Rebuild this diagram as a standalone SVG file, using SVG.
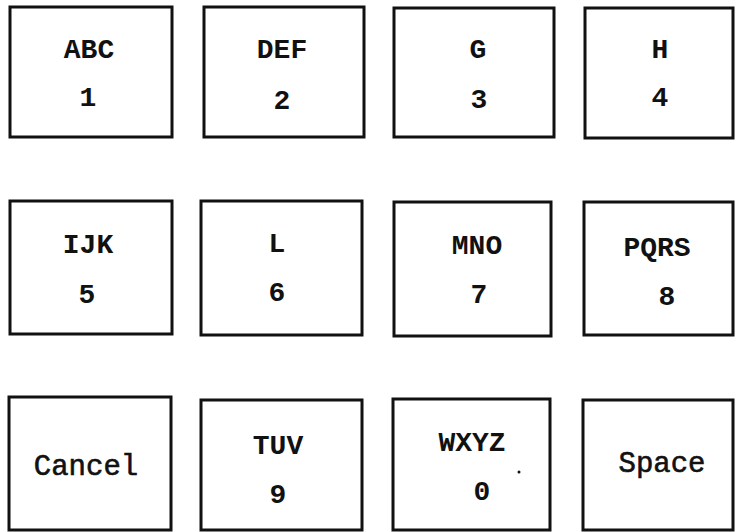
<svg xmlns="http://www.w3.org/2000/svg" width="735" height="532" viewBox="0 0 735 532">
<style>
rect{fill:#fff;stroke:#111;stroke-width:3}
text{font-family:"Liberation Mono","Courier New",monospace;font-size:28px;font-weight:bold;fill:#111;text-anchor:middle}
text.w{font-weight:normal;font-size:29px;stroke:#111;stroke-width:0.6}
</style>
<rect x="0" y="0" width="735" height="532" style="stroke:none"/>
<g id="connectors"></g>
<g id="k1"><rect x="10" y="7" width="162" height="130"/><text x="89" y="58">ABC</text><text x="88" y="106">1</text></g>
<g id="k2"><rect x="204" y="7" width="160" height="130"/><text x="282" y="58">DEF</text><text x="282" y="109">2</text></g>
<g id="k3"><rect x="394" y="8" width="160" height="129"/><text x="478" y="58">G</text><text x="479" y="108">3</text></g>
<g id="k4"><rect x="585" y="8" width="148" height="130"/><text x="660" y="58">H</text><text x="660" y="106">4</text></g>
<g id="k5"><rect x="10" y="201" width="162" height="133"/><text x="88" y="253">IJK</text><text x="87" y="303">5</text></g>
<g id="k6"><rect x="201" y="201" width="161" height="134"/><text x="277" y="252">L</text><text x="277" y="301">6</text></g>
<g id="k7"><rect x="394" y="202" width="157" height="134"/><text x="477" y="254">MNO</text><text x="479" y="303">7</text></g>
<g id="k8"><rect x="584" y="202" width="149" height="133"/><text x="657" y="256">PQRS</text><text x="667" y="305">8</text></g>
<g id="k9"><rect x="9" y="397" width="162" height="133"/><text class="w" x="86" y="475">Cancel</text></g>
<g id="k10"><rect x="201" y="400" width="161" height="130"/><text x="278" y="454">TUV</text><text x="278" y="503">9</text></g>
<g id="k11"><rect x="393" y="399" width="157" height="131"/><text x="472" y="451">WXYZ</text><text x="482" y="500">0</text><circle cx="519" cy="472" r="1.5" fill="#111"/></g>
<g id="k12"><rect x="583" y="400" width="150" height="130"/><text class="w" x="662" y="472">Space</text></g>
</svg>
